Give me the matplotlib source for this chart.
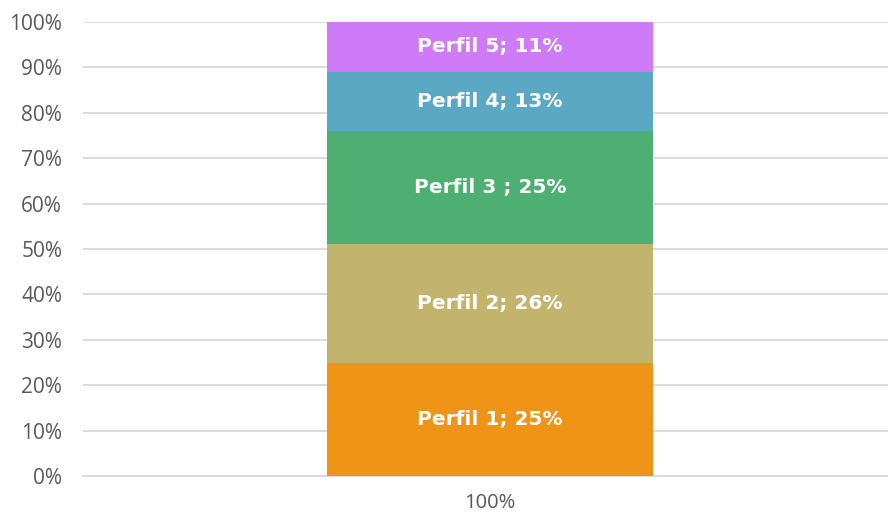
import matplotlib
matplotlib.use("Agg")
import matplotlib.pyplot as plt
from matplotlib.ticker import PercentFormatter

categories = ["100%"]
profiles = ["Perfil 1", "Perfil 2", "Perfil 3 ", "Perfil 4", "Perfil 5"]
values = [25, 26, 25, 13, 11]
colors = ["#F09418", "#C2B46C", "#4DAF72", "#5AA8C3", "#CF7BF8"]

fig = plt.figure(figsize=(8.88, 5.16), dpi=100)
ax = fig.add_axes([83/888, 1-476/516, (897-83)/888, (476-22)/516])

bottom = 0
for name, v, c in zip(profiles, values, colors):
    ax.bar(0, v, width=0.8, bottom=bottom, color=c, zorder=3)
    ax.text(0, bottom + v/2, f"{name}; {v}%", ha="center", va="center",
            color="white", fontsize=14.5, fontweight="bold", family="DejaVu Sans", zorder=4)
    bottom += v

ax.set_xlim(-1, 1)
ax.set_ylim(0, 100)
ax.set_yticks(range(0, 101, 10))
ax.yaxis.set_major_formatter(PercentFormatter(decimals=0))
ax.set_xticks([0])
ax.set_xticklabels(categories)
ax.grid(axis="y", color="#D9D9D9", linewidth=1.3, zorder=0)
for s in ["top", "right", "left"]:
    ax.spines[s].set_visible(False)
ax.spines["bottom"].set_color("#D9D9D9")
ax.spines["bottom"].set_linewidth(1.3)
ax.tick_params(axis="y", length=0, labelsize=15, labelcolor="#595959", pad=15)
ax.tick_params(axis="x", length=0, labelsize=14.5, labelcolor="#595959", pad=12)
for lab in ax.get_xticklabels() + ax.get_yticklabels():
    lab.set_family("Open Sans")

fig.savefig("out.png", dpi=100)
